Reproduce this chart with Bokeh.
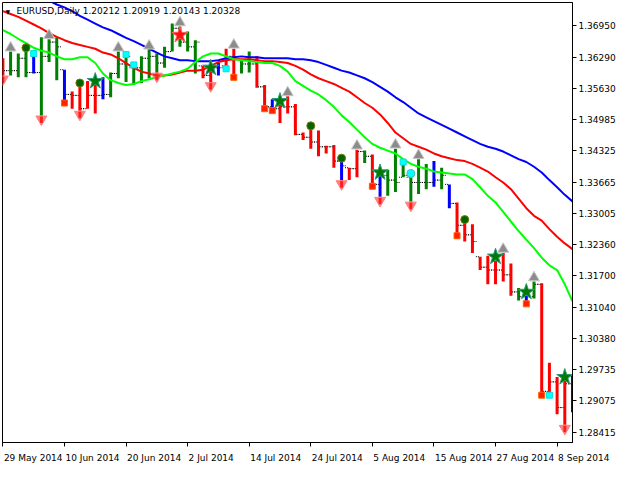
import math
from bokeh.plotting import figure
from bokeh.models import Range1d, FixedTicker, Label, LinearAxis
from bokeh.embed import file_html
from bokeh.resources import INLINE

# ---------------- data ----------------
date_labels = ["29 May 2014", "10 Jun 2014", "20 Jun 2014", "2 Jul 2014", "14 Jul 2014",
               "24 Jul 2014", "5 Aug 2014", "15 Aug 2014", "27 Aug 2014", "8 Sep 2014"]
date_bar_index = [0, 8, 16, 24, 32, 40, 48, 56, 64, 72]

price_ticks = [1.36950, 1.36290, 1.35630, 1.34985, 1.34325, 1.33665, 1.33005,
               1.32360, 1.31700, 1.31040, 1.30380, 1.29735, 1.29075, 1.28415]
price_labels = ["1.36950", "1.36290", "1.35630", "1.34985", "1.34325", "1.33665", "1.33005",
                "1.32360", "1.31700", "1.31040", "1.30380", "1.29735", "1.29075", "1.28415"]

bar_dir = ["r", "g", "g", "g", "b", "g", "g", "g", "b", "r",
           "r", "r", "r", "b", "g", "g", "g", "g", "g", "g",
           "g", "g", "g", "g", "g", "g", "r", "r", "b", "r",
           "r", "g", "g", "r", "r", "b", "r", "r", "r", "r",
           "r", "r", "r", "r", "b", "r", "r", "g", "r", "b",
           "g", "g", "g", "g", "g", "g", "b", "g", "b", "r",
           "r", "r", "r", "r", "r", "r", "r", "g", "b", "g",
           "r", "r", "r", "r", "b"]

highs = [1.3627, 1.3641, 1.3637, 1.3647, 1.3635, 1.3671, 1.3667, 1.3671, 1.3603, 1.3557,
         1.3571, 1.3579, 1.3575, 1.3587, 1.3597, 1.3641, 1.3631, 1.3607, 1.3631, 1.3645,
         1.3637, 1.3651, 1.3700, 1.3694, 1.3683, 1.3665, 1.3611, 1.3615, 1.3617, 1.3647,
         1.3647, 1.3625, 1.3641, 1.3631, 1.3571, 1.3541, 1.3531, 1.3547, 1.3531, 1.3471,
         1.3485, 1.3475, 1.3443, 1.3445, 1.3415, 1.3397, 1.3435, 1.3433, 1.3425, 1.3385,
         1.3393, 1.3437, 1.3407, 1.3377, 1.3415, 1.3405, 1.3411, 1.3397, 1.3362, 1.3324,
         1.3286, 1.3278, 1.3210, 1.3212, 1.3202, 1.3218, 1.3196, 1.3144, 1.3128, 1.3158,
         1.3154, 1.2987, 1.2957, 1.2957, 1.2961]

lows = [1.3591, 1.3591, 1.3587, 1.3587, 1.3595, 1.3507, 1.3619, 1.3581, 1.3537, 1.3521,
        1.3517, 1.3521, 1.3511, 1.3541, 1.3545, 1.3585, 1.3577, 1.3571, 1.3575, 1.3585,
        1.3597, 1.3607, 1.3641, 1.3651, 1.3641, 1.3595, 1.3585, 1.3577, 1.3591, 1.3611,
        1.3585, 1.3595, 1.3597, 1.3565, 1.3517, 1.3515, 1.3491, 1.3511, 1.3465, 1.3455,
        1.3437, 1.3421, 1.3427, 1.3397, 1.3371, 1.3371, 1.3377, 1.3407, 1.3355, 1.3336,
        1.3338, 1.3346, 1.3377, 1.3326, 1.3342, 1.3352, 1.3357, 1.3352, 1.3312, 1.3248,
        1.3242, 1.3218, 1.3182, 1.3152, 1.3152, 1.3158, 1.3128, 1.3118, 1.3116, 1.3122,
        1.2915, 1.2923, 1.2879, 1.2857, 1.2883]

opens = [1.3611, 1.3601, 1.3601, 1.3627, 1.3597, 1.3597, 1.3631, 1.3661, 1.3651, 1.3551,
         1.3549, 1.3521, 1.3549, 1.3549, 1.3551, 1.3595, 1.3615, 1.3631, 1.3607, 1.3627,
         1.3631, 1.3617, 1.3641, 1.3690, 1.3661, 1.3651, 1.3661, 1.3591, 1.3607, 1.3607,
         1.3631, 1.3625, 1.3615, 1.3615, 1.3567, 1.3525, 1.3521, 1.3525, 1.3525, 1.3467,
         1.3461, 1.3451, 1.3441, 1.3441, 1.3411, 1.3401, 1.3395, 1.3431, 1.3421, 1.3362,
         1.3381, 1.3371, 1.3366, 1.3381, 1.3366, 1.3366, 1.3366, 1.3371, 1.3381, 1.3322,
         1.3276, 1.3256, 1.3242, 1.3188, 1.3182, 1.3182, 1.3172, 1.3136, 1.3126, 1.3126,
         1.3152, 1.2927, 1.2947, 1.2893, 1.2943]

closes = [1.3601, 1.3601, 1.3627, 1.3597, 1.3597, 1.3631, 1.3661, 1.3651, 1.3551, 1.3549,
          1.3521, 1.3549, 1.3549, 1.3551, 1.3595, 1.3615, 1.3631, 1.3607, 1.3627, 1.3631,
          1.3617, 1.3641, 1.3690, 1.3661, 1.3651, 1.3661, 1.3591, 1.3607, 1.3607, 1.3631,
          1.3625, 1.3615, 1.3615, 1.3567, 1.3525, 1.3521, 1.3525, 1.3525, 1.3467, 1.3461,
          1.3451, 1.3441, 1.3441, 1.3411, 1.3401, 1.3395, 1.3431, 1.3421, 1.3362, 1.3381,
          1.3371, 1.3366, 1.3381, 1.3366, 1.3366, 1.3366, 1.3371, 1.3381, 1.3322, 1.3276,
          1.3256, 1.3242, 1.3188, 1.3182, 1.3182, 1.3172, 1.3136, 1.3126, 1.3126, 1.3152,
          1.2927, 1.2947, 1.2893, 1.2943, 1.2943]

NA = float("nan")
ma_blue = [NA, NA, NA, NA, NA,
           1.3754, 1.3748, 1.3740, 1.3734, 1.3726, 1.3716, 1.3708, 1.3700, 1.3692, 1.3686,
           1.3678, 1.3670, 1.3663, 1.3655, 1.3647, 1.3639, 1.3631, 1.3627, 1.3623, 1.3623,
           1.3621, 1.3621, 1.3621, 1.3623, 1.3627, 1.3629, 1.3631, 1.3629, 1.3629, 1.3627,
           1.3627, 1.3627, 1.3627, 1.3625, 1.3625, 1.3623, 1.3619, 1.3613, 1.3607, 1.3601,
           1.3597, 1.3591, 1.3585, 1.3577, 1.3567, 1.3557, 1.3545, 1.3535, 1.3523, 1.3511,
           1.3503, 1.3495, 1.3487, 1.3479, 1.3471, 1.3463, 1.3455, 1.3447, 1.3441, 1.3437,
           1.3431, 1.3423, 1.3415, 1.3409, 1.3399, 1.3387, 1.3371, 1.3356, 1.3340, 1.3326]

ma_red = [1.3726, 1.3720, 1.3714, 1.3706, 1.3698, 1.3690, 1.3680, 1.3672, 1.3665, 1.3659,
          1.3655, 1.3651, 1.3647, 1.3639, 1.3635, 1.3627, 1.3617, 1.3607, 1.3599, 1.3595,
          1.3591, 1.3591, 1.3593, 1.3597, 1.3601, 1.3601, 1.3603, 1.3611, 1.3619, 1.3623,
          1.3625, 1.3625, 1.3625, 1.3623, 1.3621, 1.3621, 1.3619, 1.3617, 1.3611, 1.3603,
          1.3593, 1.3585, 1.3579, 1.3573, 1.3565, 1.3557, 1.3545, 1.3533, 1.3523, 1.3509,
          1.3491, 1.3471, 1.3459, 1.3447, 1.3441, 1.3435, 1.3427, 1.3421, 1.3417, 1.3413,
          1.3411, 1.3405, 1.3397, 1.3389, 1.3377, 1.3366, 1.3352, 1.3332, 1.3312, 1.3296,
          1.3286, 1.3268, 1.3252, 1.3238, 1.3226]

ma_lime = [1.3686, 1.3678, 1.3668, 1.3659, 1.3649, 1.3643, 1.3639, 1.3631, 1.3625, 1.3625,
           1.3629, 1.3629, 1.3617, 1.3595, 1.3581, 1.3575, 1.3571, 1.3573, 1.3579, 1.3583,
           1.3587, 1.3591, 1.3595, 1.3599, 1.3605, 1.3619, 1.3631, 1.3637, 1.3637, 1.3631,
           1.3625, 1.3623, 1.3621, 1.3619, 1.3617, 1.3617, 1.3611, 1.3599, 1.3579, 1.3569,
           1.3559, 1.3551, 1.3539, 1.3525, 1.3507, 1.3493, 1.3477, 1.3461, 1.3447, 1.3439,
           1.3433, 1.3427, 1.3415, 1.3405, 1.3399, 1.3395, 1.3389, 1.3387, 1.3385, 1.3383,
           1.3383, 1.3373, 1.3356, 1.3338, 1.3324, 1.3304, 1.3284, 1.3264, 1.3246, 1.3228,
           1.3208, 1.3192, 1.3182, 1.3152, 1.3116]

up_arrow_bars = [1, 6, 15, 19, 23, 30, 37, 46, 51, 54, 65, 69]
down_arrow_bars = [0, 5, 10, 20, 27, 44, 49, 53, 73]

green_star_bars = [12, 27, 36, 49, 64, 68, 73]
green_star_price = [1.3579, 1.3607, 1.3537, 1.3387, 1.3210, 1.3136, 1.2957]
red_star_bars = [23]
red_star_price = [1.3676]
green_dot_bars = [3, 10, 40, 44, 60]
green_dot_price = [1.3649, 1.3575, 1.3485, 1.3417, 1.3288]
cyan_dot_bars = [53]
cyan_dot_price = [1.3385]
cyan_sq_bars = [4, 16, 17, 29, 52, 71]
cyan_sq_price = [1.3637, 1.3635, 1.3613, 1.3605, 1.3409, 1.2919]
red_sq_bars = [8, 30, 34, 35, 48, 59, 68, 70]
red_sq_price = [1.3533, 1.3587, 1.3521, 1.3517, 1.3358, 1.3254, 1.3111, 1.2919]

header_text = "EURUSD,Daily  1.20212 1.20919 1.20143 1.20328"

# ---------------- figure ----------------
FONT = "DejaVu Sans"
FS = 9
y_lo, y_hi = 1.28196, 1.37442
x_lo, x_hi = -0.05, 74.0
FRAME_W, FRAME_H = 570, 440
n = len(highs)
idx = list(range(n))
col_map = {"r": "#ff0000", "g": "#008000", "b": "#0000ff"}
bar_colors = [col_map[c] for c in bar_dir]

p = figure(frame_width=FRAME_W, frame_height=FRAME_H, x_range=Range1d(x_lo, x_hi),
           y_range=Range1d(y_lo, y_hi), y_axis_location="right", output_backend="svg",
           toolbar_location=None, min_border_left=2, min_border_top=2,
           min_border_right=0, min_border_bottom=0)
p.xgrid.visible = False
p.ygrid.visible = False
p.outline_line_color = "black"
p.outline_line_width = 1
p.background_fill_color = "white"
p.border_fill_color = "white"

# bars (high-low)
p.segment(x0=idx, y0=lows, x1=idx, y1=highs, line_color=bar_colors, line_width=3)

# open/close ticks (dotted black), kept inside the bar range
o_c = [min(max(o, l), h) for o, l, h in zip(opens, lows, highs)]
c_c = [min(max(c, l), h) for c, l, h in zip(closes, lows, highs)]
p.segment(x0=[i - 0.55 for i in idx], y0=o_c, x1=[i - 0.15 for i in idx], y1=o_c,
          line_color="black", line_width=1, line_dash="1 1")
p.segment(x0=[i + 0.15 for i in idx], y0=c_c, x1=[i + 0.55 for i in idx], y1=c_c,
          line_color="black", line_width=1, line_dash="1 1")

# moving averages
p.line(idx, ma_blue, line_color="#0000ff", line_width=2)
p.line(idx, ma_red, line_color="#ff0000", line_width=2)
p.line(idx, ma_lime, line_color="#00ff00", line_width=2)

# arrows
pad = 0.0008
p.scatter([i for i in up_arrow_bars], [highs[i] + pad for i in up_arrow_bars],
          marker="triangle", size=11, fill_color="#8c8c8c", line_color="#c8c8c8", line_width=1)
p.segment(x0=down_arrow_bars, y0=[lows[i] for i in down_arrow_bars],
          x1=down_arrow_bars, y1=[lows[i] - 2 * pad for i in down_arrow_bars],
          line_color="#ff0000", line_width=3)
p.scatter([i for i in down_arrow_bars], [lows[i] - pad for i in down_arrow_bars],
          marker="inverted_triangle", size=11, fill_color="#ff3030", fill_alpha=0.6,
          line_color="#ff8080", line_width=1)

# stars, dots, squares
p.scatter(green_star_bars, green_star_price, marker="star", size=17,
          fill_color="#007a00", line_color="#2a9a7a", line_width=1)
p.scatter(red_star_bars, red_star_price, marker="star", size=17,
          fill_color="#ff1010", line_color="#ff6060", line_width=1)
p.scatter(green_dot_bars, green_dot_price, marker="circle", size=8,
          fill_color="#006400", line_color="#7a7a00", line_width=1)
p.scatter(cyan_dot_bars, cyan_dot_price, marker="circle", size=8,
          fill_color="#00ffff", line_color="#40c0c0", line_width=1)
p.scatter(cyan_sq_bars, cyan_sq_price, marker="square", size=6,
          fill_color="#00ffff", line_color="#00e0e0", line_width=1)
p.scatter(red_sq_bars, red_sq_price, marker="square", size=6,
          fill_color="#ff2000", line_color="#ff6000", line_width=1)

# y axis
p.yaxis.ticker = FixedTicker(ticks=price_ticks)
p.yaxis.major_label_overrides = {v: s for v, s in zip(price_ticks, price_labels)}
p.yaxis.major_label_standoff = 2

# x axis: tick marks only
p.xaxis.ticker = FixedTicker(ticks=date_bar_index)
p.xaxis.major_label_overrides = {pos: "" for pos in date_bar_index}
p.xaxis.major_label_text_font_size = "1px"
p.xaxis.major_label_standoff = 0

for ax in (p.xaxis, p.yaxis):
    ax.axis_line_color = "black"
    ax.major_tick_line_color = "black"
    ax.major_tick_in = 0
    ax.major_tick_out = 4
    ax.minor_tick_line_color = None
    ax.major_label_text_font = FONT
    ax.major_label_text_color = "black"
p.yaxis.major_label_text_font_size = f"{FS}px"

# second axis carrying the date texts, shifted so each text starts at its tick (MT4 style)
CW = {" ": 0.318, "\u00a0": 0.318, "M": 0.863, "a": 0.613, "y": 0.592, "J": 0.295,
      "u": 0.634, "n": 0.634, "l": 0.278, "A": 0.684, "g": 0.635, "S": 0.635,
      "e": 0.615, "p": 0.635}
def text_width(s):
    return sum(0.636 if ch.isdigit() else CW.get(ch, 0.6) for ch in s) * FS
px_per_bar = FRAME_W / (x_hi - x_lo)
sp_w = 0.318 * FS
lab_pos, lab_txt = [], []
for pos, lab in zip(date_bar_index, date_labels):
    centre = pos + (text_width(lab) / 2 + 1) / px_per_bar
    limit = x_hi - 0.02
    if centre > limit:
        # the text runs past the plot's right edge: centre it on the edge and pad its front
        extra_px = (centre - limit) * px_per_bar
        k = int(round(2 * extra_px / sp_w))
        lab = "\u00a0" * k + lab
        centre = limit
    lab_pos.append(round(centre, 3))
    lab_txt.append(lab)
lab_axis = LinearAxis(ticker=FixedTicker(ticks=lab_pos),
                      major_label_overrides={lp: t for lp, t in zip(lab_pos, lab_txt)},
                      axis_line_color=None, major_tick_line_color=None,
                      minor_tick_line_color=None, major_label_standoff=0,
                      major_label_text_font=FONT, major_label_text_font_size=f"{FS}px",
                      major_label_text_color="black")
p.add_layout(lab_axis, "below")

# header
p.add_layout(Label(x=x_lo, y=y_hi, x_offset=3, y_offset=-5, text="\u25BC", text_font=FONT,
                   text_font_size="6px", text_baseline="top", text_color="black"))
p.add_layout(Label(x=x_lo, y=y_hi, x_offset=14, y_offset=-3, text=header_text, text_font=FONT,
                   text_font_size=f"{FS}px", text_baseline="top", text_color="black"))

open("out.html", "w").write(file_html(p, INLINE))
